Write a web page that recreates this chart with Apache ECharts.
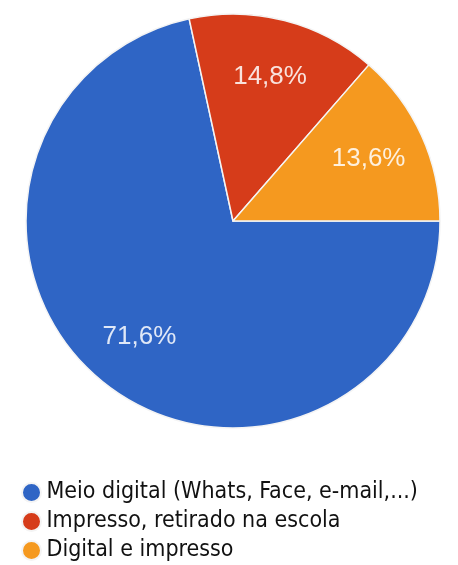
<!DOCTYPE html>
<html>
<head>
<meta charset="utf-8">
<script src="https://cdn.jsdelivr.net/npm/echarts@6/dist/echarts.min.js"></script>
<style>
html,body{margin:0;padding:0;background:#fff;}
#c{width:458px;height:565px;}
</style>
</head>
<body>
<div id="c"></div>
<script>
const categories = ['Meio digital (Whats, Face, e-mail,...)', 'Impresso, retirado na escola', 'Digital e impresso'];
const values = [71.6, 14.8, 13.6];
const labels = ['71,6%', '14,8%', '13,6%'];
const colors = ['#2f65c5', '#d63c1a', '#f5991f'];

const chart = echarts.init(document.getElementById('c'), null, {renderer: 'canvas'});
const data = categories.map((n, i) => ({name: n, value: values[i], itemStyle: {color: colors[i]}}));

chart.setOption({
  animation: false,
  legend: {
    orient: 'vertical',
    left: 21,
    top: 481,
    padding: 0,
    icon: 'circle',
    itemWidth: 20,
    itemHeight: 19,
    itemGap: 6,
    textStyle: {fontFamily: 'DejaVu Sans Condensed', fontSize: 23, lineHeight: 20, color: '#111'},
    data: categories
  },
  series: [
    {
      type: 'pie',
      center: [233, 221],
      radius: [0, 207],
      startAngle: 0,
      clockwise: true,
      silent: true,
      label: {show: false},
      labelLine: {show: false},
      itemStyle: {borderColor: '#f4f4f4', borderWidth: 1.5},
      data: data
    },
    {
      type: 'pie',
      center: [233, 221],
      radius: [0, 292],
      startAngle: 0,
      clockwise: true,
      silent: true,
      legendHoverLink: false,
      label: {
        show: true,
        position: 'inside',
        formatter: p => labels[p.dataIndex],
        fontFamily: 'Liberation Sans',
        fontSize: 26,
        color: 'rgba(255,255,255,0.85)'
      },
      labelLine: {show: false},
      itemStyle: {color: 'rgba(0,0,0,0)'},
      data: categories.map((n, i) => ({name: n + ' ', value: values[i]}))
    }
  ]
});
</script>
</body>
</html>
